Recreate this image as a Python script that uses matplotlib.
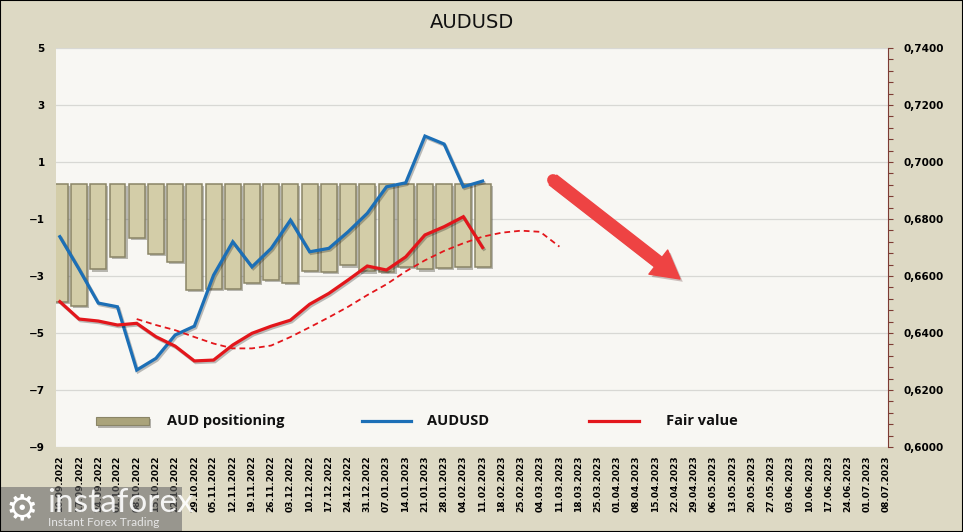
import matplotlib
matplotlib.use("Agg")
import matplotlib.pyplot as plt
import matplotlib.patheffects as pe
from matplotlib.patches import Rectangle
from matplotlib.lines import Line2D
from matplotlib.ticker import FuncFormatter, MultipleLocator
import numpy as np

# Weekly dates on the category axis
dates = ["10.09.2022", "17.09.2022", "24.09.2022", "01.10.2022", "08.10.2022",
         "15.10.2022", "22.10.2022", "29.10.2022", "05.11.2022", "12.11.2022",
         "19.11.2022", "26.11.2022", "03.12.2022", "10.12.2022", "17.12.2022",
         "24.12.2022", "31.12.2022", "07.01.2023", "14.01.2023", "21.01.2023",
         "28.01.2023", "04.02.2023", "11.02.2023", "18.02.2023", "25.02.2023",
         "04.03.2023", "11.03.2023", "18.03.2023", "25.03.2023", "01.04.2023",
         "08.04.2023", "15.04.2023", "22.04.2023", "29.04.2023", "06.05.2023",
         "13.05.2023", "20.05.2023", "27.05.2023", "03.06.2023", "10.06.2023",
         "17.06.2023", "24.06.2023", "01.07.2023", "08.07.2023"]

# AUD net positioning (left axis)
positioning = [-3.90, -4.05, -2.77, -2.32, -1.68, -2.24, -2.52, -3.49, -3.44,
               -3.44, -3.23, -3.14, -3.26, -2.81, -2.86, -2.63, -2.84, -2.86,
               -2.67, -2.77, -2.72, -2.70, -2.67]

# AUDUSD spot (right axis)
audusd = [0.6738, 0.6624, 0.6505, 0.6492, 0.6270, 0.6311, 0.6393, 0.6424,
          0.6603, 0.6720, 0.6632, 0.6697, 0.6796, 0.6685, 0.6697, 0.6755,
          0.6820, 0.6913, 0.6927, 0.7091, 0.7063, 0.6913, 0.6933]

# Fair value (right axis)
fair_value = [0.6510, 0.6449, 0.6442, 0.6428, 0.6434, 0.6387, 0.6354, 0.6302,
              0.6305, 0.6358, 0.6399, 0.6424, 0.6445, 0.6501, 0.6539, 0.6586,
              0.6635, 0.6621, 0.6667, 0.6744, 0.6773, 0.6808, 0.6700]

# Smoothed fair value, starts at the 5th week
fair_trend_start = 4
fair_trend = [0.6449, 0.6428, 0.6410, 0.6386, 0.6363, 0.6346, 0.6346, 0.6356,
              0.6386, 0.6420, 0.6455, 0.6492, 0.6533, 0.6571, 0.6616, 0.6655,
              0.6688, 0.6715, 0.6738, 0.6752, 0.6759, 0.6755, 0.6703]

BAR_BASE = 0.22

BG = "#ddd9c4"
PLOT_BG = "#f8f7f3"
BAR_FACE = "#d3cda8"
BAR_EDGE = "#8a8566"
BLUE = "#1c6fb6"
RED = "#e3161b"

fig = plt.figure(figsize=(9.63, 5.32), dpi=100, facecolor=BG)
ax = fig.add_axes([56 / 963, 85 / 532, 832 / 963, 399 / 532])
ax2 = ax.twinx()

ax.set_facecolor(PLOT_BG)
ax2.patch.set_visible(False)

x = np.arange(len(dates))
xb = np.arange(len(positioning))

# bars hang down from the baseline
shadow = [pe.SimplePatchShadow(offset=(1.5, -1.5), alpha=0.35), pe.Normal()]
bars = ax.bar(xb, np.array(positioning) - BAR_BASE, bottom=BAR_BASE, width=0.83,
              color=BAR_FACE, edgecolor=BAR_EDGE, linewidth=1.1, zorder=2)
for b in bars:
    b.set_path_effects(shadow)

ax.set_xlim(-0.2, len(dates) - 1 + 0.1)
ax.set_ylim(-9, 5)
ax.set_yticks(np.arange(-9, 5.1, 2))
ax.yaxis.grid(True, color="#d8d8d4", linewidth=0.9)
ax.set_axisbelow(True)
for s in ax.spines.values():
    s.set_visible(False)
ax.tick_params(axis="y", length=0, pad=8, labelsize=7.5)
ax.set_xticks(x)
ax.set_xticklabels(dates, rotation=90, fontsize=6.5, fontweight="bold")
ax.tick_params(axis="x", length=0, pad=6)
for lab in ax.get_yticklabels():
    lab.set_fontweight("bold")

line_fx = [pe.SimpleLineShadow(offset=(1, -1.2), alpha=0.25), pe.Normal()]
ax2.plot(xb, audusd, color=BLUE, lw=2.3, solid_joinstyle="miter",
         path_effects=line_fx, zorder=3)
ax2.plot(xb, fair_value, color=RED, lw=2.3, solid_joinstyle="miter",
         path_effects=line_fx, zorder=3)
xt = np.arange(fair_trend_start, fair_trend_start + len(fair_trend))
ax2.plot(xt, fair_trend, color=RED, lw=1.3, linestyle=(0, (3.2, 2.2)), zorder=3)

ax2.set_ylim(0.6, 0.74)
ax2.set_yticks(np.arange(0.6, 0.7401, 0.02))
ax2.yaxis.set_minor_locator(MultipleLocator(0.004))
ax2.yaxis.set_major_formatter(FuncFormatter(lambda v, p: f"{v:.4f}".replace(".", ",")))
for name in ["top", "left", "bottom"]:
    ax2.spines[name].set_visible(False)
ax2.spines["right"].set_color("#7d3b33")
ax2.spines["right"].set_linewidth(0.8)
ax2.tick_params(axis="y", which="both", direction="out", color="#7d3b33",
                width=0.8, length=3.5, labelsize=7.5, pad=8)
for lab in ax2.get_yticklabels():
    lab.set_fontweight("bold")

# legend inside the plot, laid out by hand
ly = 0.065
legend_font = dict(family=["Open Sans", "DejaVu Sans"], fontsize=10.5, fontweight="bold",
                   va="center", transform=ax2.transAxes, color="#111111")
sw = Rectangle((0.048, ly - 0.011), 0.064, 0.022, transform=ax2.transAxes,
               facecolor="#aaa37a", edgecolor="#8a8566", lw=0.8, zorder=4)
sw.set_path_effects([pe.SimplePatchShadow(offset=(1.5, -1.5), alpha=0.35), pe.Normal()])
ax2.add_patch(sw)
ax2.text(0.133, ly, "AUD positioning", **legend_font)
ax2.add_line(Line2D([0.368, 0.427], [ly, ly], transform=ax2.transAxes,
                    color=BLUE, lw=2.3))
ax2.text(0.446, ly, "AUDUSD", **legend_font)
ax2.add_line(Line2D([0.641, 0.701], [ly, ly], transform=ax2.transAxes,
                    color=RED, lw=2.3))
ax2.text(0.733, ly, "Fair value", **legend_font)

fig.text(472 / 963, 1 - 23 / 532, "AUDUSD", ha="center", va="center",
         fontsize=14, color="#111111")

# big red arrow
arrow_color = "#ee4343"
ax2.annotate("", xy=(680, 532 - 279), xytext=(553, 532 - 180),
             xycoords="figure pixels", textcoords="figure pixels",
             arrowprops=dict(arrowstyle="simple,head_length=0.9,head_width=1.0,tail_width=0.4",
                             mutation_scale=22, color=arrow_color, shrinkA=0, shrinkB=0,
                             path_effects=[pe.SimplePatchShadow(offset=(2, -2), alpha=0.25),
                                           pe.Normal()]),
             zorder=5)
fig.add_artist(Line2D([553, 570], [532 - 180, 532 - 193], transform=None,
                      color=arrow_color, lw=8.5, solid_capstyle="round", zorder=5))

# watermark in the bottom left corner
fig.add_artist(Rectangle((0, 0), 182 / 963, 45 / 532, transform=fig.transFigure,
                         facecolor="#6a6a6a", alpha=0.6, edgecolor="none", zorder=10))
fig.text(22 / 963, 23 / 532, "\u2699", fontsize=26, color="white", ha="center",
         va="center", zorder=11)
fig.text(47 / 963, 29 / 532, "instaforex", fontsize=24, color="white", alpha=0.9,
         ha="left", va="center", family=["Lato", "DejaVu Sans"], zorder=11)
fig.text(48 / 963, 9 / 532, "Instant Forex Trading", fontsize=8.5, color="#e6e6e6",
         ha="left", va="center", family=["Lato", "DejaVu Sans"], zorder=11)

fig.add_artist(Rectangle((0, 0), 1, 1, transform=fig.transFigure, fill=False,
                         edgecolor="black", lw=1.5, zorder=12))

fig.savefig("out.png", dpi=100, facecolor=BG)
